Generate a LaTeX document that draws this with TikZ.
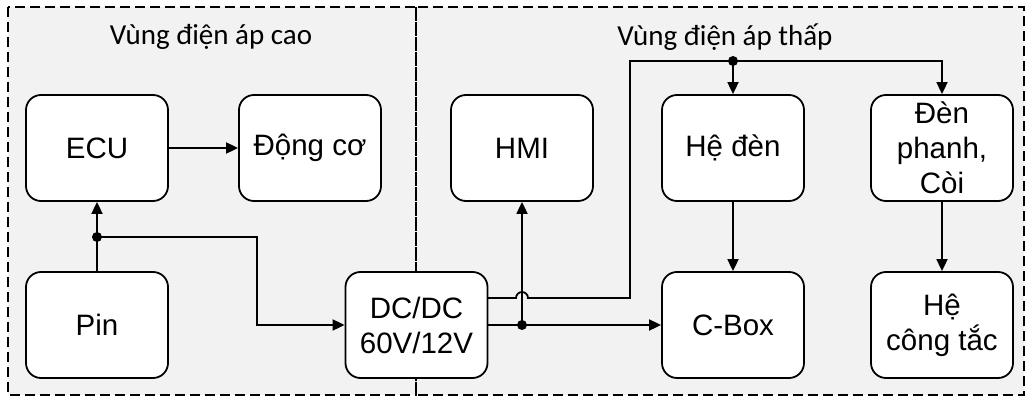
\documentclass[tikz,border=0pt]{standalone}
\usepackage{fontspec}
\setmainfont{Liberation Sans}
\newfontfamily\regfont{Carlito}
\usetikzlibrary{arrows.meta}
\definecolor{regiongray}{HTML}{F2F2F2}
\begin{document}
\begin{tikzpicture}[x=1pt,y=-1pt,
  blk/.style={draw, line width=1.8pt, fill=white, rounded corners=15pt,
    minimum width=142pt, minimum height=106pt, align=center, inner sep=0pt,
    font=\fontsize{29.5}{35}\selectfont},
  wire/.style={line width=1.8pt},
  conn/.style={wire, -{Triangle[length=12pt,width=11pt]}},
  dotj/.style={circle, fill=black, inner sep=0pt, minimum size=10pt},
  region/.style={line width=1.6pt, dash pattern=on 10pt off 5pt},
  reglabel/.style={font=\regfont\fontsize{29}{32}\selectfont, inner sep=0pt}]
\useasboundingbox (0,0) rectangle (1029,396);
% regions
\fill[regiongray] (8,7) rectangle (1024,395);
\draw[region] (8,7) rectangle (416,395);
\draw[region] (416,7) rectangle (1024,395);
\node[reglabel] (lhv) at (211,37) {Vùng điện áp cao};
\node[reglabel] (llv) at (725,37) {Vùng điện áp thấp};
% blocks
\node[blk] (ecu) at (97,148) {ECU};
\node[blk] (dong) at (310,148) {Động cơ};
\node[blk] (pin) at (97,325) {Pin};
\node[blk] (dc) at (416.5,325) {DC/DC\\60V/12V};
\node[blk] (hmi) at (522,148) {HMI};
\node[blk] (heden) at (733,148) {Hệ đèn};
\node[blk] (phanh) at (942,148) {Đèn\\phanh,\\Còi};
\node[blk] (cbox) at (733,325) {C-Box};
\node[blk] (congtac) at (942,325) {Hệ\\công tắc};
% junction coordinates
\coordinate (b1) at (257,237);
\coordinate (u0) at (487.5,298);
\coordinate (h0) at (516,298);
\coordinate (t1) at (630,61);
\coordinate (t2) at (942,61);
% connectors
\draw[conn] (ecu) -- (dong);
\draw[conn] (pin.north) -- (ecu.south);
\draw[conn] (97,237) -- (b1) |- (dc.west);
\draw[conn] (dc.east) -- (cbox.west);
\draw[conn] (522,325) -- (hmi.south);
\draw[conn] (u0) -- (h0) arc[start angle=180, end angle=360, radius=6] -- (t1 |- u0) -- (t1) -- (t2) -- (phanh.north);
\draw[conn] (733,61) -- (heden.north);
\draw[conn] (heden) -- (cbox);
\draw[conn] (phanh) -- (congtac);
% junction dots
\node[dotj] (j1) at (97,237) {};
\node[dotj] (j2) at (522,325) {};
\node[dotj] (j3) at (733,61) {};
\end{tikzpicture}
\end{document}
